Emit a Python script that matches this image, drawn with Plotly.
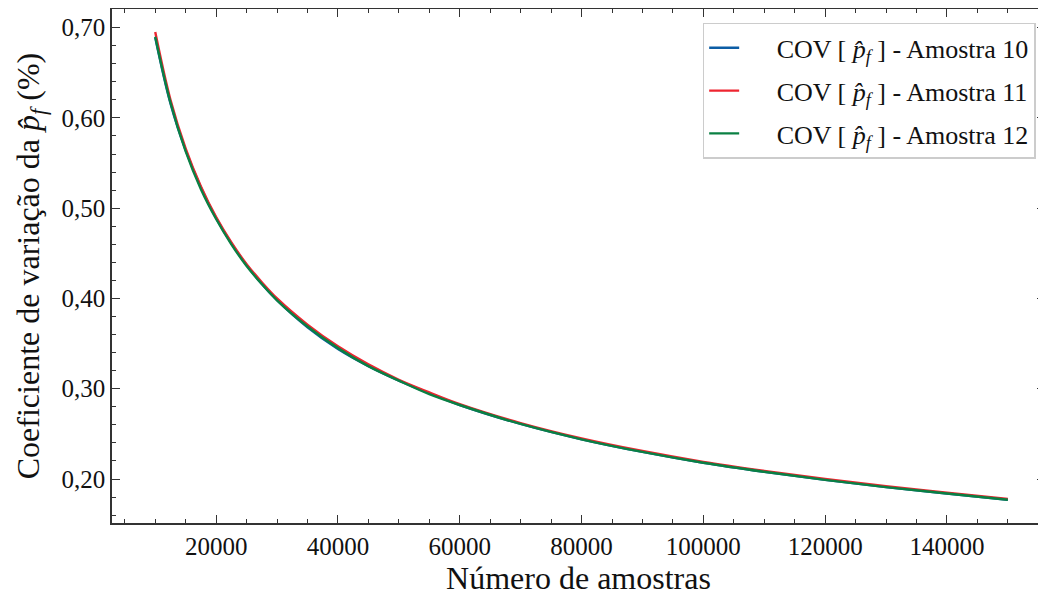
import plotly.graph_objects as go

# Data
n_amostras = [10000, 12500, 15000, 17500, 20000, 22500, 25000, 27500, 30000,
              35000, 40000, 45000, 50000, 55000, 60000, 70000, 80000, 90000,
              100000, 110000, 120000, 130000, 140000, 150000]
cov_10 = [0.689, 0.616, 0.564, 0.523, 0.489, 0.461, 0.437, 0.416, 0.398,
          0.368, 0.344, 0.325, 0.309, 0.295, 0.282, 0.261, 0.244, 0.230,
          0.218, 0.208, 0.199, 0.191, 0.184, 0.177]
cov_11 = [0.695, 0.620, 0.566, 0.524, 0.490, 0.462, 0.438, 0.418, 0.400,
          0.371, 0.347, 0.327, 0.310, 0.296, 0.283, 0.262, 0.245, 0.231,
          0.219, 0.209, 0.200, 0.192, 0.185, 0.178]
cov_12 = [0.690, 0.617, 0.563, 0.521, 0.488, 0.460, 0.436, 0.416, 0.398,
          0.369, 0.345, 0.325, 0.309, 0.294, 0.282, 0.261, 0.244, 0.230,
          0.218, 0.208, 0.199, 0.191, 0.184, 0.177]
x_ticks = [20000, 40000, 60000, 80000, 100000, 120000, 140000]
y_ticks = [0.2, 0.3, 0.4, 0.5, 0.6, 0.7]

series_names = ["COV [ <i>p̂</i><sub><i>f</i></sub> ] - Amostra 10",
                "COV [ <i>p̂</i><sub><i>f</i></sub> ] - Amostra 11",
                "COV [ <i>p̂</i><sub><i>f</i></sub> ] - Amostra 12"]
colors = ["#0C5DA5", "#EE2530", "#0A8043"]

FONT = "Liberation Serif"
PAD = "&nbsp;" * 5

fig = go.Figure()
for i, (name, ys, c) in enumerate(zip(series_names, [cov_10, cov_11, cov_12], colors)):
    fig.add_trace(go.Scatter(x=n_amostras, y=ys, mode="lines", name=PAD + name,
                             legendgroup=f"g{i}",
                             line=dict(color=c, width=2.4, shape="spline")))

axis_common = dict(
    showgrid=False, zeroline=False, showline=True, linecolor="#333333",
    linewidth=1.5, mirror="allticks", ticks="inside", ticklen=8, tickwidth=1.2,
    tickcolor="#333333", tickfont=dict(family=FONT, size=25, color="#111111"),
    automargin=False,
)

fig.update_xaxes(
    **axis_common, range=[2900, 156100], tickvals=x_ticks,
    tickformat="d",
    minor=dict(ticks="inside", dtick=5000, tick0=0, ticklen=4, tickwidth=1, tickcolor="#333333"),
    title=dict(text="Número de amostras", font=dict(family=FONT, size=32, color="#111111"), standoff=8),
)
fig.update_yaxes(
    **axis_common, range=[0.1513, 0.7206], tickvals=y_ticks,
    tickformat=".2f",
    minor=dict(ticks="inside", dtick=0.02, tick0=0, ticklen=4, tickwidth=1, tickcolor="#333333"),
    title=dict(text="Coeficiente de variação da <i>p̂</i><sub><i>f</i></sub> (%)",
               font=dict(family=FONT, size=32, color="#111111"), standoff=12),
)

fig.update_layout(
    width=1038, height=588,
    margin=dict(l=104, r=1, t=1, b=73),
    paper_bgcolor="white", plot_bgcolor="white",
    separators=",.",
    font=dict(family=FONT, color="#111111"),
    legend=dict(x=0.990, y=0.973, xanchor="right", yanchor="top",
                bgcolor="rgba(255,255,255,0.9)", bordercolor="#cccccc", borderwidth=1.5,
                font=dict(family=FONT, size=26, color="#111111"),
                tracegroupgap=6),
    showlegend=True,
)

fig.write_html("out.html")
